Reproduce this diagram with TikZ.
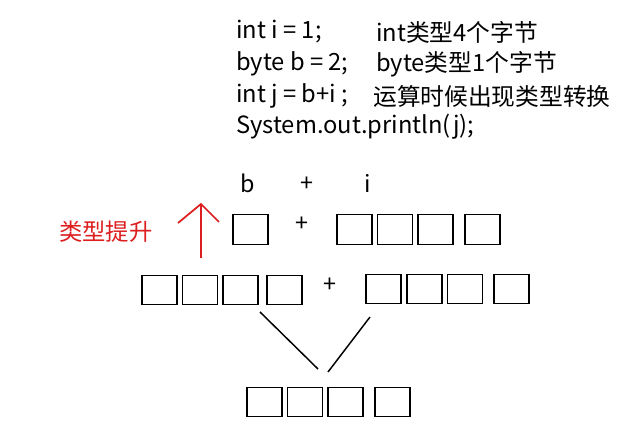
\documentclass[tikz,border=0pt]{standalone}
\usepackage{fontspec}
\setmainfont{Noto Sans CJK SC}
\usetikzlibrary{arrows.meta}
\definecolor{redc}{RGB}{220,30,30}
\tikzset{
  cell/.style={draw=black, line width=0.9pt, minimum width=26.25pt, minimum height=22pt, inner sep=0pt},
  txt/.style={anchor=west, inner sep=0pt, font=\fontsize{17.8}{20}\selectfont},
  lbl/.style={inner sep=0pt, font=\fontsize{17.5}{20}\selectfont},
}
\begin{document}
\begin{tikzpicture}[x=0.75pt,y=-0.75pt]
\useasboundingbox (0,0) rectangle (644,427);
% code text
\node[txt] (l1a) at (236,32) {int i = 1;};
\node[txt] (l1b) at (376,32) {int类型4个字节};
\node[txt] (l2a) at (236,64) {byte b = 2;};
\node[txt] (l2b) at (376,64) {byte类型1个字节};
\node[txt] (l3a) at (236,96) {int j = b+i ;};
\node[txt] (l3b) at (373,96) {运算时候出现类型转换};
\node[txt] (l4a) at (236,127) {System.out.println(j);};
% labels
\node[lbl] (lb) at (248,183) {b};
\node[lbl] (lp) at (307,184) {+};
\node[lbl] (li) at (368,183) {i};
% row 1
\node[cell] (b1) at (250.5,229.5) {};
\node[lbl] (p1) at (302,224) {+};
\node[cell] (i1) at (354.5,229.5) {};
\node[cell] (i2) at (395,229.5) {};
\node[cell] (i3) at (435.5,229.5) {};
\node[cell] (i4) at (482.5,229.5) {};
% red arrow
\coordinate (abot) at (201,258);
\coordinate (atop) at (201,204);
\draw[redc, line width=1.3pt] (abot) -- (atop);
\draw[redc, line width=1.3pt] (178,223) -- (atop) -- (219,222);
\node[lbl, text=redc] (tp) at (106,232) {类型提升};
% row 2
\node[cell] (r1) at (159.5,290) {};
\node[cell] (r2) at (200,290) {};
\node[cell] (r3) at (240.5,290) {};
\node[cell] (r4) at (284.5,290) {};
\node[lbl] (p2) at (330,285) {+};
\node[cell] (s1) at (383.5,289) {};
\node[cell] (s2) at (424.5,289) {};
\node[cell] (s3) at (465,289) {};
\node[cell] (s4) at (511.5,289) {};
% connectors
\coordinate (c1) at (260,312);
\coordinate (c2) at (318,369);
\coordinate (c3) at (370,317);
\coordinate (c4) at (328,372);
\draw[line width=1.1pt] (c1) -- (c2);
\draw[line width=1.1pt] (c3) -- (c4);
% row 3
\node[cell] (t1) at (264.5,402) {};
\node[cell] (t2) at (305,402) {};
\node[cell] (t3) at (345.5,402) {};
\node[cell] (t4) at (392.5,402) {};
\end{tikzpicture}
\end{document}
